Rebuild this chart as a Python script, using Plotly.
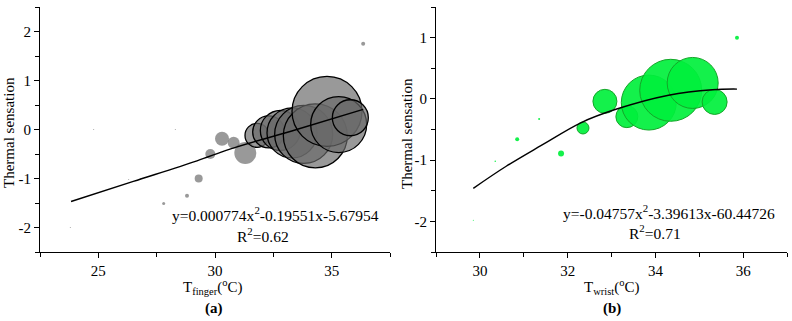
import plotly.graph_objects as go

# ---- Panel (a): finger temperature ----
finger_x = [23.8, 24.8, 26.3, 26.8, 27.8, 28.3, 28.8, 29.3, 29.8, 30.3, 30.8, 31.3,
            31.8, 32.3, 32.8, 33.3, 33.8, 34.3, 34.8, 35.3, 35.8, 36.35]
finger_y = [-2.0, 0.0, -1.02, -1.0, -1.51, 0.0, -1.35, -1.0, -0.5, -0.19, -0.27, -0.48,
            -0.12, -0.05, -0.02, -0.07, -0.1, -0.13, 0.37, 0.1, 0.24, 1.75]
finger_n = [1, 1, 1, 1, 3, 1, 4, 8, 10, 14, 12, 22,
            24, 32, 40, 50, 58, 64, 70, 56, 36, 4]

finger_fit_x = [23.83, 26.5, 29.23, 30.64, 33.5, 36.35]
finger_fit_y = [-1.47, -1.06, -0.64, -0.40, 0.0, 0.41]

# ---- Panel (b): wrist temperature ----
wrist_x = [29.85, 30.35, 30.85, 31.35, 31.85, 32.35, 32.85, 33.35, 33.85, 34.35, 34.85, 35.35, 35.86]
wrist_y = [-1.98, -1.02, -0.66, -0.33, -0.89, -0.475, -0.04, -0.29, -0.06, 0.14, 0.26, -0.05, 1.0]
wrist_n = [1, 1.5, 4, 2, 6, 12, 24, 22, 55, 62, 51, 25, 4]

wrist_fit_x = [29.85, 30.6, 31.4, 32.3, 33.1, 34.3, 35.3, 35.86]
wrist_fit_y = [-1.46, -1.1, -0.76, -0.39, -0.17, 0.06, 0.15, 0.16]

fa_ticks = [25, 30, 35]
fa_yticks = [-2, -1, 0, 1, 2]
fb_ticks = [30, 32, 34, 36]
fb_yticks = [-2, -1, 0, 1]

eq_a = "y=0.000774x<sup>2</sup>-0.19551x-5.67954"
r2_a = "R<sup>2</sup>=0.62"
eq_b = "y=-0.04757x<sup>2</sup>-3.39613x-60.44726"
r2_b = "R<sup>2</sup>=0.71"

FONT = "Liberation Serif"

fig = go.Figure()

line_w_a = [1.3 if n >= 24 else 0 for n in finger_n]
fig.add_trace(go.Scatter(
    x=finger_x, y=finger_y, mode="markers", xaxis="x", yaxis="y",
    marker=dict(size=finger_n, sizemode="diameter", opacity=1,
                color="rgba(105,105,105,0.68)",
                line=dict(color="black", width=line_w_a)),
    showlegend=False))
fig.add_trace(go.Scatter(
    x=finger_fit_x, y=finger_fit_y, mode="lines", xaxis="x", yaxis="y",
    line=dict(color="black", width=1.4, shape="spline"), showlegend=False))

line_w_b = [1 if n >= 10 else 0 for n in wrist_n]
fig.add_trace(go.Scatter(
    x=wrist_x, y=wrist_y, mode="markers", xaxis="x2", yaxis="y2",
    marker=dict(size=wrist_n, sizemode="diameter", opacity=1,
                color="rgba(0,240,60,0.92)",
                line=dict(color="rgb(20,165,40)", width=line_w_b)),
    showlegend=False))
fig.add_trace(go.Scatter(
    x=wrist_fit_x, y=wrist_fit_y, mode="lines", xaxis="x2", yaxis="y2",
    line=dict(color="black", width=1.4, shape="spline"), showlegend=False))

axis_common = dict(showgrid=False, zeroline=False, showline=True, linecolor="black",
                   linewidth=1, ticks="outside", ticklen=5, tickcolor="black",
                   tickfont=dict(family=FONT, size=15, color="black"))

fig.update_layout(
    width=792, height=321,
    margin=dict(l=0, r=0, t=0, b=0),
    paper_bgcolor="white", plot_bgcolor="white",
    font=dict(family=FONT, size=14, color="black"),
    xaxis=dict(domain=[40/792, 390/792], range=[22.5, 37.5], anchor="y",
               tickvals=fa_ticks, ticktext=[str(v) for v in fa_ticks],
               minor=dict(dtick=2.5, tick0=22.5, ticks="outside", ticklen=4, tickcolor="black"),
               **axis_common),
    yaxis=dict(domain=[1-252/321, 1-7/321], range=[-2.5, 2.5], anchor="x",
               tickvals=fa_yticks, ticktext=[str(v) for v in fa_yticks],
               minor=dict(dtick=0.5, tick0=-2.5, ticks="outside", ticklen=4, tickcolor="black"),
               **axis_common),
    xaxis2=dict(domain=[436/792, 787/792], range=[29, 37], anchor="y2",
                tickvals=fb_ticks, ticktext=[str(v) for v in fb_ticks],
                minor=dict(dtick=1, tick0=29, ticks="outside", ticklen=4, tickcolor="black"),
                **axis_common),
    yaxis2=dict(domain=[1-252/321, 1-7/321], range=[-2.5, 1.5], anchor="x2",
                tickvals=fb_yticks, ticktext=[str(v) for v in fb_yticks],
                minor=dict(dtick=0.5, tick0=-2.5, ticks="outside", ticklen=4, tickcolor="black"),
                **axis_common),
)

def ann(text, xpx, ypx, size=14, angle=0, bold=False):
    fig.add_annotation(
        text=f"<b>{text}</b>" if bold else text,
        x=xpx/792, y=1-ypx/321, xref="paper", yref="paper",
        xanchor="center", yanchor="middle", showarrow=False, textangle=angle,
        font=dict(family=FONT, size=size, color="black"))

ann(eq_a, 275, 214, size=15.5)
ann(r2_a, 263, 235, size=15.5)
ann(eq_b, 669, 212, size=15.5)
ann(r2_b, 655, 232, size=15.5)
ann("T<sub>finger</sub>(<sup>o</sup>C)", 213, 287, size=15)
ann("T<sub>wrist</sub>(<sup>o</sup>C)", 611, 287, size=15)
ann("(a)", 214, 308, size=15, bold=True)
ann("(b)", 612, 308, size=15, bold=True)
ann("Thermal sensation", 9, 133, size=15, angle=-90)
ann("Thermal sensation", 407, 133, size=15, angle=-90)

fig.write_html("out.html", config={"displayModeBar": False},
               post_script="document.body.style.margin='0';document.body.style.padding='0';")
